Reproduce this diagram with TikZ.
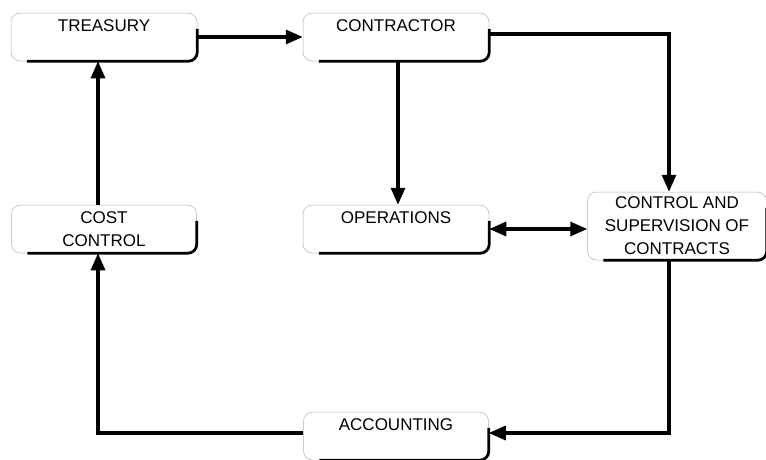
\documentclass[tikz,border=0pt]{standalone}
\usepackage{fontspec}
\setmainfont{Liberation Sans}
\usetikzlibrary{arrows.meta}
\tikzset{
  box/.style={rectangle, rounded corners=9pt, draw=gray!60, line width=0.5pt,
    minimum width=186pt, minimum height=48pt, inner ysep=0pt, align=center,
    font=\fontsize{17}{23}\selectfont},
  boxedge/.style={black, line width=2.8pt, rounded corners=9pt},
  topline/.style={text height=18pt, text depth=30pt},
  arr/.style={line width=3.2pt, -{Triangle[length=17pt,width=14pt]}},
  darr/.style={line width=3.2pt, {Triangle[length=17pt,width=14pt]}-{Triangle[length=17pt,width=14pt]}}
}
\begin{document}
\begin{tikzpicture}[x=1pt, y=-1pt]
\useasboundingbox (0,0) rectangle (766,459);
\node[box, topline] (treasury) at (104,37) {TREASURY};
\node[box, topline] (contractor) at (396,37) {CONTRACTOR};
\node[box, minimum width=185pt] (costcontrol) at (104,229) {COST\\CONTROL};
\node[box, topline] (operations) at (396,229) {OPERATIONS};
\node[box, minimum width=179pt, minimum height=68pt] (csc) at (677,226) {CONTROL AND\\SUPERVISION OF\\CONTRACTS};
\node[box, topline, minimum width=185pt] (accounting) at (396,436) {ACCOUNTING};
\foreach \n in {treasury,contractor,costcontrol,operations,csc,accounting}
  \draw[boxedge] ([yshift=-16pt]\n.north east) -- (\n.south east) -- ([xshift=16pt]\n.south west);
\draw[arr] (treasury.east) -- (contractor.west);
\draw[arr] ([xshift=-6pt]costcontrol.north) -- ([xshift=-6pt]treasury.south);
\draw[arr] ([xshift=2pt]contractor.south) -- ([xshift=2pt]operations.north);
\draw[arr] ([yshift=3pt]contractor.east) -| ([xshift=-8pt]csc.north);
\draw[darr] (operations.east) -- (operations.east -| csc.west);
\draw[arr] ([xshift=-8pt]csc.south) |- ([yshift=3pt]accounting.east);
\draw[arr] ([yshift=3pt]accounting.west) -| ([xshift=-6pt]costcontrol.south);
\end{tikzpicture}
\end{document}
